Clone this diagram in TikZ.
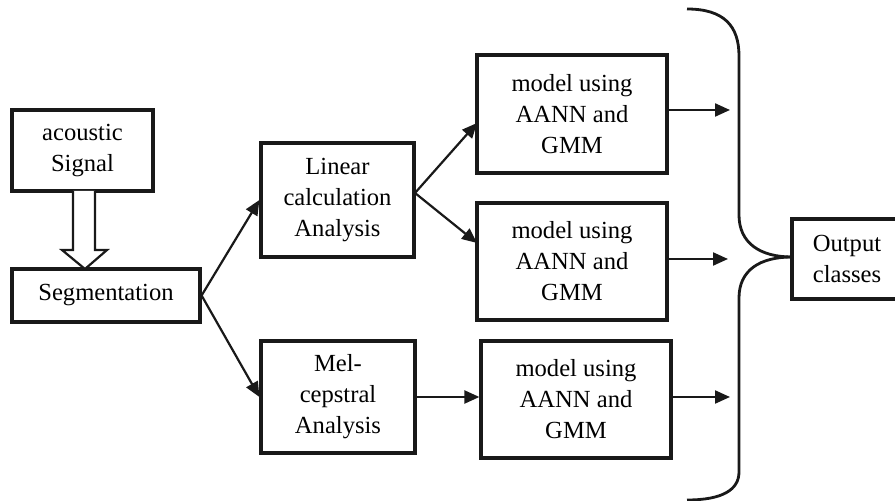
\documentclass[tikz,border=0pt]{standalone}
\usepackage{fontspec}
\setmainfont{Liberation Serif}
\usetikzlibrary{arrows.meta}
\begin{document}
\begin{tikzpicture}[x=0.5pt,y=-0.5pt,
  font=\fontsize{12.3pt}{15.5pt}\selectfont,
  blk/.style={draw=black!90, line width=1.6pt, inner sep=0pt, align=center},
  flow/.style={line width=1.1pt, black!90, -{Triangle[length=7.5pt,width=6.5pt]}},
  brace/.style={line width=1.4pt, black!90}]
\useasboundingbox (0,0) rectangle (895,501);
\clip (0,0) rectangle (895,501);

% processing blocks
\node[blk, minimum width=70.5pt, minimum height=40.5pt] (sig) at (82.5,150.5) {acoustic\\Signal};
\node[blk, minimum width=94pt, minimum height=26.5pt] (seg) at (106,295.5) {Segmentation};
\node[blk, minimum width=76.5pt, minimum height=57pt] (lin) at (337.5,200) {Linear\\calculation\\Analysis};
\node[blk, minimum width=77pt, minimum height=56pt] (mel) at (338,397) {Mel-\\cepstral\\Analysis};
\node[blk, minimum width=95pt, minimum height=59pt] (m1) at (572,114) {model using\\AANN and\\GMM};
\node[blk, minimum width=95pt, minimum height=58.5pt] (m2) at (572,261.5) {model using\\AANN and\\GMM};
\node[blk, minimum width=95pt, minimum height=58.5pt] (m3) at (576,399.5) {model using\\AANN and\\GMM};

% output block, running off the right edge
\draw[draw=black!90, line width=1.6pt] (900,219) -- (792,219) -- (792,299) -- (900,299);
\node[align=center, inner sep=0pt] (out) at (847,259) {Output\\classes};

% hollow arrow from the signal to segmentation
\draw[line width=1.1pt, black!90, fill=white]
  (73,191) -- (73,250) -- (62,250) -- (85,269) -- (107,250) -- (95,250) -- (95,191);

% connector end points
\coordinate (linout) at (415,193);
\coordinate (m1in) at (477,123);
\coordinate (m2in) at (477,243);
\coordinate (a1) at (730,110);
\coordinate (a2) at (728,259);
\coordinate (a3) at (730,397);

\draw[flow] (seg.east) -- (lin.west);
\draw[flow] (seg.east) -- (mel.west);
\draw[flow] (linout) -- (m1in);
\draw[flow] (linout) -- (m2in);
\draw[flow] (mel.east) -- (mel.east -| m3.west);
\draw[flow] (m1.east |- a1) -- (a1);
\draw[flow] (m2.east |- a2) -- (a2);
\draw[flow] (m3.east |- a3) -- (a3);

% brace gathering the model outputs
\coordinate (cusp) at (792,257);
\draw[brace] (687,9) .. controls (724,9) and (739,26) .. (739,56)
  -- (739,215) .. controls (739,243) and (760,257) .. (cusp);
\draw[brace] (cusp) .. controls (760,257) and (739,270) .. (739,298)
  -- (739,472) .. controls (739,490) and (722,500) .. (687,500);
\end{tikzpicture}
\end{document}
